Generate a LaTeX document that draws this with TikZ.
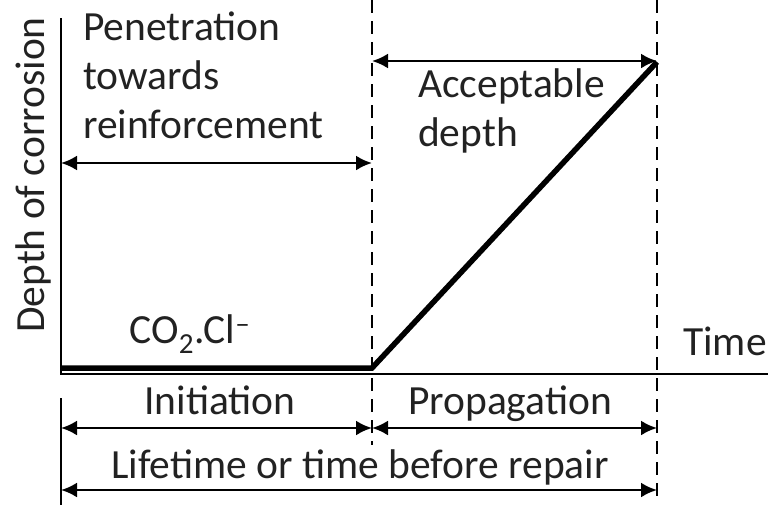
\documentclass[tikz,border=0pt]{standalone}
\usepackage{fontspec}
\setmainfont{Carlito}
\usetikzlibrary{arrows.meta,positioning}
\definecolor{ctext}{HTML}{222222}
\tikzset{
  lbl/.style={font=\fontsize{41.5}{49}\selectfont, text=ctext, inner sep=0pt, align=left},
  dimline/.style={{Latex[length=16pt,width=15pt]}-{Latex[length=16pt,width=15pt]}, line width=2.5pt},
  guide/.style={dash pattern=on 13pt off 8pt, line width=1.6pt},
  axis/.style={line width=2pt},
  depth/.style={line width=5.5pt},
}
\begin{document}
\begin{tikzpicture}[x=1pt, y=-1pt]
  \useasboundingbox (0,0) rectangle (768,515);
  % frame points
  \coordinate (top) at (61,18);
  \coordinate (o) at (61,374);
  \coordinate (tend) at (768,374);
  \coordinate (ti) at (372,0);
  \coordinate (tib) at (372,445);
  \coordinate (tr) at (657,0);
  \coordinate (trb) at (657,500);
  \coordinate (tl) at (61,398);
  \coordinate (tlb) at (61,505);
  % axes and guides
  \draw[axis] (top) -- (o) -- (tend);
  \draw[axis] (tl) -- (tlb);
  \draw[guide] (ti) -- (tib);
  \draw[guide] (tr) -- (trb);
  % corrosion depth
  \coordinate (d0) at (61,368);
  \coordinate (d1) at (372,368);
  \coordinate (d2) at (657,62);
  \draw[depth] (d0) -- (d1) -- (d2);
  % dimension arrows
  \coordinate (pa) at (61,163);
  \coordinate (pb) at (372,163);
  \coordinate (aa) at (372,61);
  \coordinate (ab) at (657,61);
  \coordinate (ia) at (61,428);
  \coordinate (ib) at (372,428);
  \coordinate (ic) at (657,428);
  \coordinate (la) at (61,490);
  \coordinate (lb) at (657,490);
  \draw[dimline] (pa) -- (pb);
  \draw[dimline] (aa) -- (ab);
  \draw[dimline] (ia) -- (ib);
  \draw[dimline] (ib) -- (ic);
  \draw[dimline] (la) -- (lb);
  % labels
  \node[lbl, rotate=90] (ylab) at (33,175) {Depth of corrosion};
  \node[lbl, anchor=base west] (pen) at (83,138) {Penetration\\towards\\reinforcement};
  \node[lbl, anchor=base west] (acc) at (418,146) {Acceptable\\depth};
  \node[lbl, anchor=base] (co) at (190,343) {CO\textsubscript{2}.Cl\textsuperscript{--}};
  \node[lbl, anchor=base] (time) at (725,355) {Time};
  \node[lbl, anchor=base] (init) at (220,414) {Initiation};
  \node[lbl, anchor=base] (prop) at (510,414) {Propagation};
  \node[lbl, anchor=base] (life) at (360,478) {Lifetime or time before repair};
\end{tikzpicture}
\end{document}
